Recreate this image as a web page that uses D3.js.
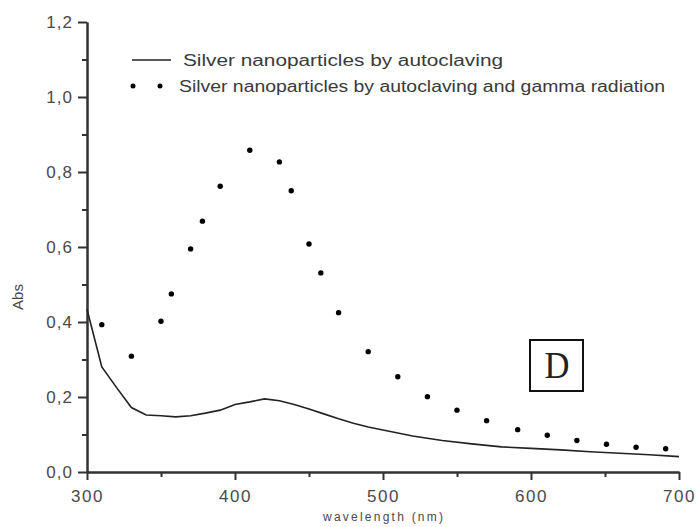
<!DOCTYPE html>
<meta charset="utf-8">
<title>Silver nanoparticles absorbance</title>
<style>
  body { margin: 0; background-color: white; }
  .axis path, .axis line { stroke: #333; stroke-width: 2px; }
  .axis text { font-family: "Liberation Sans", Arial, sans-serif; font-size: 17px; fill: #4a4a4a; }
  .legend text { font-family: "Liberation Sans", Arial, sans-serif; font-size: 16px; fill: #3a3a3a; }
</style>
<svg width="697" height="527"></svg>
<script src="https://d3js.org/d3.v7.min.js"></script>
<script>
// solid curve: autoclaving only
var wlAuto  = [300, 310, 320, 330, 340, 350, 360, 370, 380, 390, 400, 410, 420, 430, 440, 450,
               460, 470, 480, 490, 500, 520, 540, 560, 580, 600, 620, 640, 660, 680, 700];
var absAuto = [0.434, 0.28, 0.225, 0.172, 0.152, 0.150, 0.147, 0.150, 0.157, 0.165, 0.180, 0.187,
               0.195, 0.190, 0.180, 0.168, 0.155, 0.142, 0.130, 0.120, 0.112, 0.096, 0.084, 0.075,
               0.067, 0.063, 0.059, 0.054, 0.050, 0.046, 0.041];

// dotted curve: autoclaving + gamma radiation
var wlGamma  = [310, 330, 350, 357, 370, 378, 390, 410, 430, 438, 450, 458, 470, 490,
                510, 530, 550, 570, 591, 611, 631, 651, 671, 691];
var absGamma = [0.393, 0.309, 0.402, 0.475, 0.595, 0.669, 0.762, 0.858, 0.827, 0.750, 0.608, 0.531,
                0.425, 0.321, 0.254, 0.201, 0.165, 0.137, 0.113, 0.098, 0.084, 0.074, 0.066, 0.062];

var yMajor = [0, 0.2, 0.4, 0.6, 0.8, 1.0, 1.2];
var yMinor = [0.1, 0.3, 0.5, 0.7, 0.9, 1.1];
var xMajor = [300, 400, 500, 600, 700];
var xMinor = [350, 450, 550, 650];

var legendLabels = ["Silver nanoparticles by autoclaving",
                    "Silver nanoparticles by autoclaving and gamma radiation"];

var svg = d3.select("svg");

var x = d3.scaleLinear().domain([300, 700]).range([87, 679]);
var y = d3.scaleLinear().domain([0, 1.2]).range([472, 22]);

var fmt = function(d) { return d3.format(".1f")(d).replace(".", ","); };

// minor ticks first, then major axes on top
svg.append("g").attr("class", "axis")
   .attr("transform", "translate(87,0)")
   .call(d3.axisLeft(y).tickValues(yMinor).tickSize(5).tickSizeOuter(0).tickFormat(""));
svg.append("g").attr("class", "axis")
   .attr("transform", "translate(0,472)")
   .call(d3.axisBottom(x).tickValues(xMinor).tickSize(5).tickSizeOuter(0).tickFormat(""));

svg.append("g").attr("class", "axis")
   .attr("transform", "translate(87,0)")
   .call(d3.axisLeft(y).tickValues(yMajor).tickSize(9).tickSizeOuter(0).tickPadding(5).tickFormat(fmt))
   .selectAll("text").attr("letter-spacing", "1px");
svg.append("g").attr("class", "axis")
   .attr("transform", "translate(0,472)")
   .call(d3.axisBottom(x).tickValues(xMajor).tickSize(8).tickSizeOuter(0).tickPadding(10))
   .selectAll("text").attr("letter-spacing", "1.5px");

// axis titles
svg.append("text")
   .attr("x", 383).attr("y", 521)
   .attr("text-anchor", "middle")
   .attr("font-family", "Liberation Sans, Arial, sans-serif")
   .attr("font-size", 12).attr("fill", "#4a4a4a")
   .attr("textLength", 120).attr("lengthAdjust", "spacing")
   .text("wavelength (nm)");

svg.append("text")
   .attr("transform", "translate(23,297) rotate(-90)")
   .attr("text-anchor", "middle")
   .attr("font-family", "Liberation Sans, Arial, sans-serif")
   .attr("font-size", 15).attr("fill", "#4a4a4a")
   .text("Abs");

// solid line
var line = d3.line()
   .x(function(d, i) { return x(wlAuto[i]); })
   .y(function(d) { return y(d); });

svg.append("path")
   .datum(absAuto)
   .attr("fill", "none")
   .attr("stroke", "#222")
   .attr("stroke-width", 1.6)
   .attr("d", line);

// dotted series
svg.append("g")
   .selectAll("circle")
   .data(absGamma)
   .enter().append("circle")
   .attr("cx", function(d, i) { return x(wlGamma[i]); })
   .attr("cy", function(d) { return y(d); })
   .attr("r", 2.7)
   .attr("fill", "#000");

// legend
var legend = svg.append("g").attr("class", "legend");
legend.append("line")
   .attr("x1", 132).attr("x2", 171).attr("y1", 60).attr("y2", 60)
   .attr("stroke", "#222").attr("stroke-width", 1.6);
legend.selectAll("circle")
   .data([133, 160])
   .enter().append("circle")
   .attr("cx", function(d) { return d; }).attr("cy", 86)
   .attr("r", 2.5).attr("fill", "#000");
legend.append("text")
   .attr("x", 183).attr("y", 66)
   .attr("textLength", 320).attr("lengthAdjust", "spacingAndGlyphs")
   .text(legendLabels[0]);
legend.append("text")
   .attr("x", 179).attr("y", 92)
   .attr("textLength", 486).attr("lengthAdjust", "spacingAndGlyphs")
   .text(legendLabels[1]);

// panel label
svg.append("rect")
   .attr("x", 530).attr("y", 340).attr("width", 53).attr("height", 51)
   .attr("fill", "none").attr("stroke", "#111").attr("stroke-width", 2);
svg.append("text")
   .attr("x", 557).attr("y", 378)
   .attr("text-anchor", "middle")
   .attr("font-family", "Liberation Serif, Times New Roman, serif")
   .attr("font-size", 38).attr("fill", "#222")
   .attr("textLength", 25).attr("lengthAdjust", "spacingAndGlyphs")
   .text("D");
</script>
